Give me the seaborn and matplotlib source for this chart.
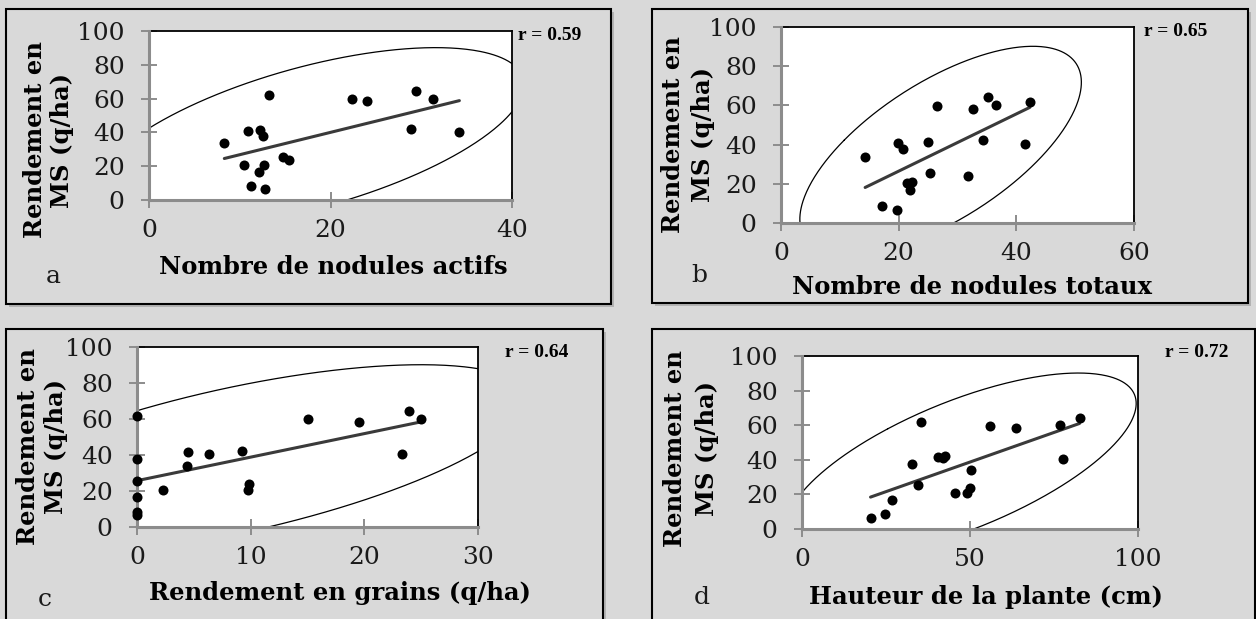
import numpy as np
import matplotlib
matplotlib.use("Agg")
import matplotlib.pyplot as plt
from matplotlib.patches import Rectangle
import seaborn as sns

# Rendement en MS (q/ha) : même ordre de plantes pour les quatre panneaux
rendement_ms = [6.5, 8.5, 16.7, 20.6, 20.8, 23.8, 25.6, 33.9, 37.8,
                40.3, 40.8, 41.5, 42.2, 58.3, 59.8, 60.0, 61.9, 64.4]
nodules_actifs = [12.8, 11.25, 12.1, 10.5, 12.7, 15.4, 14.8, 8.3, 12.6,
                  34.2, 10.9, 12.2, 28.9, 24.0, 22.4, 31.25, 13.2, 29.4]
nodules_totaux = [19.7, 17.1, 21.9, 21.4, 22.2, 31.8, 25.4, 14.3, 20.7,
                  41.4, 19.9, 25.0, 34.4, 32.6, 26.5, 36.6, 42.3, 35.1]
rendement_grains = [0.0, 0.0, 0.0, 2.3, 9.76, 9.85, 0.0, 4.4, 0.0,
                    23.35, 6.3, 4.5, 9.2, 19.5, 15.0, 25.0, 0.0, 23.9]
hauteur_plante = [20.4, 24.8, 26.8, 45.4, 49.1, 50.0, 34.4, 50.3, 32.6,
                  77.8, 42.0, 40.6, 42.7, 63.7, 56.1, 76.9, 35.3, 82.6]

labels_x = ["Nombre de nodules actifs", "Nombre de nodules totaux",
            "Rendement en grains (q/ha)", "Hauteur de la plante (cm)"]
lettres = ["a", "b", "c", "d"]
coef_r = ["r = 0.59", "r = 0.65", "r = 0.64", "r = 0.72"]
xmax = [40, 60, 30, 100]
xpas = [20, 20, 10, 50]

W, H = 1256, 619
GRIS_FOND = "#d9d9d9"
GRIS_AXE = "#8c8c8c"
K_ELLIPSE = 2.85  # ellipse de prédiction à 95 %


def fx(x):
    return x / W


def fy(y):
    return 1 - y / H


def ellipse(x, y, k=K_ELLIPSE):
    x = np.asarray(x, float)
    y = np.asarray(y, float)
    vals, vecs = np.linalg.eigh(np.cov(x, y))
    t = np.linspace(0, 2 * np.pi, 500)
    cercle = np.vstack([np.cos(t), np.sin(t)]) * (k * np.sqrt(vals))[:, None]
    pts = vecs @ cercle
    return x.mean() + pts[0], y.mean() + pts[1]


sns.set_style("white")
plt.rcParams["font.family"] = ["DejaVu Serif"]
plt.rcParams["text.color"] = "black"

fig = plt.figure(figsize=(W / 100, H / 100), dpi=100, facecolor=GRIS_FOND)

# cadres des panneaux (x0, y0, x1, y1 en pixels)
cadres = [(6, 9, 611, 304), (652, 9, 1248, 303), (6, 329, 603, 630), (652, 329, 1255, 630)]
for x0, y0, x1, y1 in cadres:
    fig.patches.append(Rectangle((fx(x0 + 3), fy(y1 + 3)), fx(x1 - x0), (y1 - y0) / H,
                                 transform=fig.transFigure, facecolor="#b3b3b3",
                                 edgecolor="none", zorder=-3))
    fig.patches.append(Rectangle((fx(x0), fy(y1)), fx(x1 - x0), (y1 - y0) / H,
                                 transform=fig.transFigure, facecolor=GRIS_FOND,
                                 edgecolor="black", linewidth=1.5, zorder=-2))

# zones de tracé (gauche, haut, droite, bas en pixels)
zones = [(149, 31, 512, 200), (781, 27, 1134, 223), (137, 347, 478, 527), (802, 356, 1138, 529)]
# positions des textes
ylab_x = [(35, 62), (673, 703), (28, 56), (675, 707)]
ylab_y = [140, 135, 447, 449]
xlab_pos = [(333, 267), (972, 287), (340, 593), (986, 597)]
lettre_pos = [(53, 277), (699, 275), (45, 599), (702, 597)]
r_pos = [(518, 35), (1144, 32), (505, 352), (1165, 352)]

series_x = [nodules_actifs, nodules_totaux, rendement_grains, hauteur_plante]

for i, xs in enumerate(series_x):
    g, h, d, b = zones[i]
    ax = fig.add_axes([fx(g), fy(b), fx(d - g), (b - h) / H])
    ax.set_facecolor("white")

    ex, ey = ellipse(xs, rendement_ms)
    ax.plot(ex, ey, color="black", linewidth=0.9, zorder=2)

    sns.regplot(x=xs, y=rendement_ms, ax=ax, ci=None, truncate=True,
                scatter_kws={"s": 52, "color": "black", "alpha": 1, "clip_on": False,
                             "zorder": 5, "linewidths": 0},
                line_kws={"color": "#3a3a3a", "linewidth": 2.2, "zorder": 4})

    ax.set_xlim(0, xmax[i])
    ax.set_ylim(0, 100)
    ax.set_xticks(np.arange(0, xmax[i] + 1, xpas[i]))
    ax.set_yticks(np.arange(0, 101, 20))
    ax.set_xlabel("")
    ax.set_ylabel("")

    for cote in ["top", "right"]:
        ax.spines[cote].set_color("black")
        ax.spines[cote].set_linewidth(1.3)
    for cote in ["left", "bottom"]:
        ax.spines[cote].set_color(GRIS_AXE)
        ax.spines[cote].set_linewidth(2.2)
        ax.spines[cote].set_zorder(3)

    ax.tick_params(direction="inout", length=11, width=1.4, color=GRIS_AXE,
                   labelsize=18, labelcolor="#1a1a1a", bottom=True, left=True)
    ax.tick_params(axis="y", pad=12)
    ax.tick_params(axis="x", pad=8)

    # titre de l'axe y sur deux lignes
    fig.text(fx(ylab_x[i][0]), fy(ylab_y[i]), "Rendement en", rotation=90,
             ha="center", va="center", fontsize=17.5, fontweight="bold")
    fig.text(fx(ylab_x[i][1]), fy(ylab_y[i]), "MS (q/ha)", rotation=90,
             ha="center", va="center", fontsize=17.5, fontweight="bold")
    fig.text(fx(xlab_pos[i][0]), fy(xlab_pos[i][1]), labels_x[i],
             ha="center", va="center", fontsize=17.5, fontweight="bold")
    fig.text(fx(lettre_pos[i][0]), fy(lettre_pos[i][1]), lettres[i],
             ha="center", va="center", fontsize=18, color="#1a1a1a")
    fig.text(fx(r_pos[i][0]), fy(r_pos[i][1]), coef_r[i], ha="left", va="center",
             fontsize=14, fontweight="bold", family=["Liberation Serif"])

fig.savefig("out.png", dpi=100, facecolor=GRIS_FOND)
